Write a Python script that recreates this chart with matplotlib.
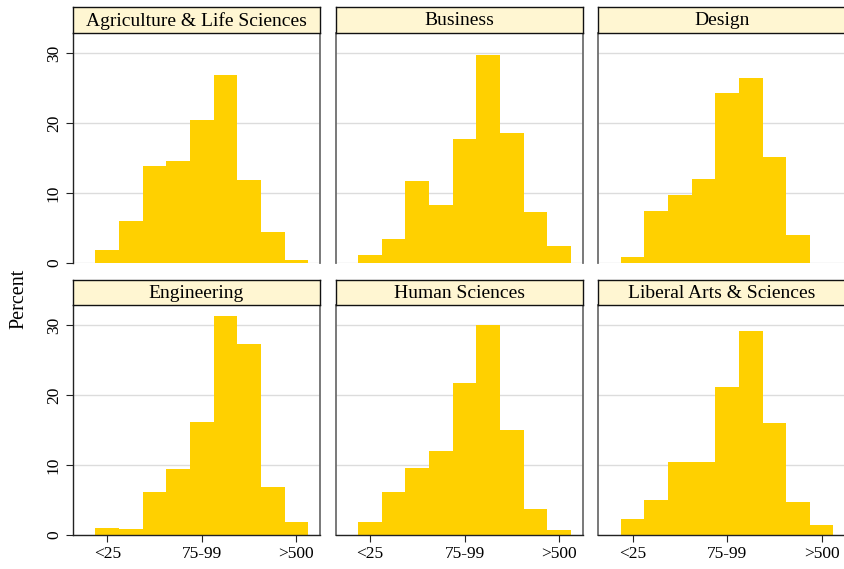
import numpy as np
import matplotlib
matplotlib.use('Agg')
import matplotlib.pyplot as plt

plt.rcParams['font.family'] = ['Liberation Serif', 'DejaVu Serif']

# bins 1..9, percent per college
colleges = ['Agriculture & Life Sciences', 'Business', 'Design',
            'Engineering', 'Human Sciences', 'Liberal Arts & Sciences']
bins = np.arange(1, 10)
agri = [1.9, 5.95, 13.9, 14.6, 20.4, 26.9, 11.9, 4.5, 0.47]
business = [1.1, 3.5, 11.7, 8.3, 17.8, 29.8, 18.6, 7.3, 2.4]
design = [0.86, 7.5, 9.76, 12.0, 24.3, 26.5, 15.2, 4.0, 0.0]
engineering = [0.95, 0.86, 6.1, 9.4, 16.1, 31.3, 27.3, 6.8, 1.86]
human = [1.86, 6.1, 9.6, 11.95, 21.7, 30.0, 14.95, 3.7, 0.7]
liberal = [2.3, 5.05, 10.4, 10.5, 21.2, 29.2, 15.95, 4.76, 1.43]
values = [agri, business, design, engineering, human, liberal]

xtick_pos = [1, 5, 9]
xtick_labels = ['<25', '75-99', '>500']
ytick_pos = [0, 10, 20, 30]

W, H = 845, 569
fig = plt.figure(figsize=(W / 100, H / 100), dpi=100)

col_left = [73, 335.7, 598.3]
col_w = 247
rows = [(33, 263, 7), (305, 535, 280)]  # plot top, plot bottom, strip top

bar_col = '#FFD000'
side_col = '#6E6E6E'

for i, name in enumerate(colleges):
    r, c = divmod(i, 3)
    top, bot, stop = rows[r]
    left = col_left[c]
    ax = fig.add_axes([left / W, (H - bot) / H, col_w / W, (bot - top) / H])
    ax.bar(bins, values[i], width=1.0, color=bar_col, linewidth=0, zorder=2)
    ax.set_xlim(-0.45, 10.0)
    ax.set_ylim(0, 32.9)
    ax.set_yticks(ytick_pos)
    for y in ytick_pos:
        ax.axhline(y, color='#DCDCDC', lw=1.0, zorder=1)
    ax.spines['top'].set_visible(False)
    ax.spines['right'].set_color(side_col)
    ax.spines['right'].set_linewidth(1.3)
    ax.spines['left'].set_color('#222222' if c == 0 else side_col)
    ax.spines['left'].set_linewidth(1.0 if c == 0 else 1.3)
    if r == 1:
        ax.spines['bottom'].set_color('#222222')
        ax.spines['bottom'].set_linewidth(1.0)
        ax.set_xticks(xtick_pos)
        ax.set_xticklabels(xtick_labels, fontsize=12.5)
        ax.tick_params(axis='x', length=5, width=0.8, color='#222222', pad=3)
    else:
        ax.spines['bottom'].set_visible(False)
        ax.set_xticks([])
    if c == 0:
        ax.set_yticklabels([str(v) for v in ytick_pos], fontsize=12.5,
                           rotation=90, va='center')
        ax.tick_params(axis='y', length=5, width=0.8, color='#222222', pad=3)
    else:
        ax.tick_params(axis='y', length=0, labelleft=False)

    # title strip
    sx = fig.add_axes([left / W, (H - top) / H, col_w / W, (top - stop) / H])
    sx.set_facecolor('#FFF6D2')
    sx.set_xticks([])
    sx.set_yticks([])
    for s in sx.spines.values():
        s.set_color('#111111')
        s.set_linewidth(1.0)
    sx.text(0.5, 0.47, name, ha='center', va='center', fontsize=14,
            transform=sx.transAxes)

fig.text(19 / W, (H - 299) / H, 'Percent', rotation=90, ha='center',
         va='center', fontsize=14.5)

fig.savefig('out.png', dpi=100)
